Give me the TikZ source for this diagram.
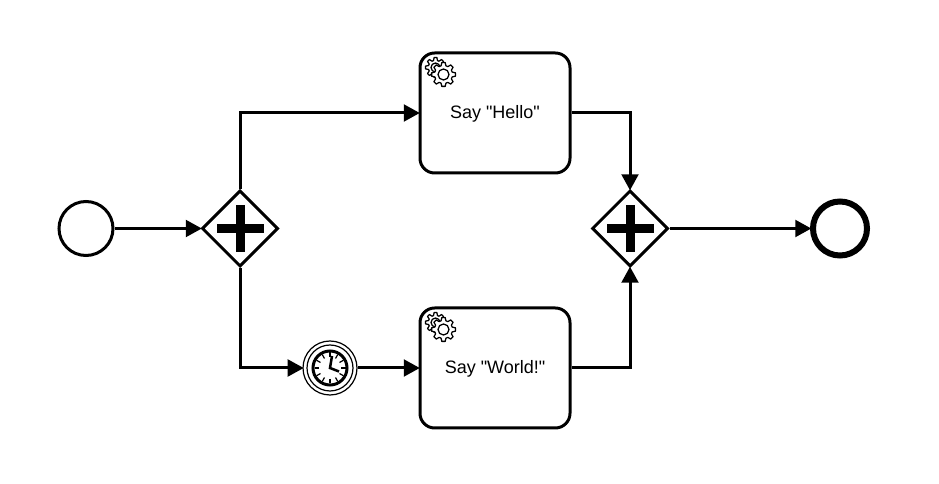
\documentclass[tikz,border=0pt]{standalone}
\usepackage{fontspec}
\setmainfont{Liberation Sans}[Ligatures=TeXOff]
\usetikzlibrary{shapes.geometric, arrows.meta, positioning, calc}
\tikzset{
    event/.style = {circle, draw=black, fill=white, line width=2.25pt, minimum size=40.5pt, inner sep=0pt},
    endevent/.style = {event, line width=4.5pt},
    gateway/.style = {diamond, draw=black, fill=white, line width=2.25pt, minimum width=57pt, minimum height=57pt, inner sep=0pt},
    task/.style = {rectangle, rounded corners=11pt, draw=black, fill=white, line width=2.25pt, minimum width=112.5pt, minimum height=90pt, text centered, text height=11pt, text depth=3pt, font=\fontsize{13.5}{15}\selectfont},
    timer/.style = {circle, draw=black, fill=white, line width=0.9pt, minimum size=40.5pt, inner sep=0pt},
    arrow/.style = {line width=2.25pt, -{Triangle[length=12pt, width=12.5pt]}, shorten >=-1pt, draw=black},
    gearline/.style = {draw=black, fill=white, line width=0.95pt, line join=round},
    pics/plusmark/.style = {code={
        \fill[black] (-23.5,-4.5) rectangle (23.5,4.5);
        \fill[black] (-4.5,-23.5) rectangle (4.5,23.5);
    }},
    pics/gearicon/.style = {code={
        % small gear behind, large gear in front
        \draw[gearline] ($(-7,7)+(-16:7.2)$)
            \foreach \a in {0,45,...,315} {-- ($(-7,7)+(\a-16:7.2)$) -- ($(-7,7)+(\a-8:10)$) -- ($(-7,7)+(\a+8:10)$) -- ($(-7,7)+(\a+16:7.2)$)} -- cycle;
        \draw[gearline] (-7,7) circle (4.5);
        \draw[gearline] ($(1,0)+(-16:9)$)
            \foreach \a in {0,45,...,315} {-- ($(1,0)+(\a-16:9)$) -- ($(1,0)+(\a-8:12)$) -- ($(1,0)+(\a+8:12)$) -- ($(1,0)+(\a+16:9)$)} -- cycle;
        \draw[gearline] (1,0) circle (5.5);
    }},
    pics/clockface/.style = {code={
        \draw[black, line width=0.9pt] (0,0) circle (23);
        \draw[black, line width=2.25pt] (0,0) circle (17);
        \foreach \a in {0,30,...,330} {\draw[black, line width=0.9pt] (\a:11) -- (\a:15.5);}
        \draw[black, line width=1.9pt] (2,12) -- (0,0) -- (9,-3.5);
    }}
}

\begin{document}
\begin{tikzpicture}[x=0.75pt, y=0.75pt]
    \useasboundingbox (0,0) rectangle (939,-484);

    % Start event and first gateway
    \node (start) [event] at (86,-228.5) {};
    \node (split) [gateway, right=64.5pt of start] {};
    \pic at (split) {plusmark};

    % Upper and lower tasks
    \node (hello) [task] at (495,-113) {Say "Hello"};
    \node (world) [task] at (495,-368) {Say "World!"};
    \pic at ($(hello.north west)+(24,-23)$) {gearicon};
    \pic at ($(world.north west)+(24,-23)$) {gearicon};

    % Timer on the lower branch
    \node (wait) [timer] at (330,-368) {};
    \pic at (wait) {clockface};

    % Second gateway and end event
    \node (join) [gateway] at (630,-228.5) {};
    \pic at (join) {plusmark};
    \node (stop) [endevent] at (840,-228.5) {};

    % Sequence flows
    \draw [arrow] (start) -- (split);
    \draw [arrow] (split.north) |- (hello.west);
    \draw [arrow] (split.south) |- (wait.west);
    \draw [arrow] (wait) -- (world);
    \draw [arrow] (hello.east) -| (join.north);
    \draw [arrow] (world.east) -| (join.south);
    \draw [arrow] (join) -- (stop);
\end{tikzpicture}
\end{document}
